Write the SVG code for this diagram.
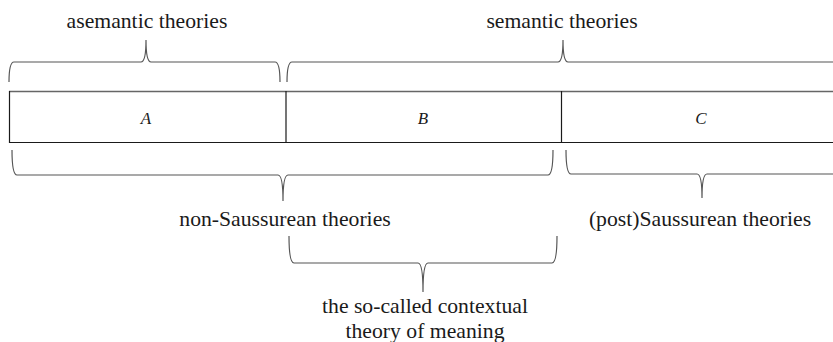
<svg xmlns="http://www.w3.org/2000/svg" width="833" height="342" viewBox="0 0 833 342">
<style>
text{font-family:"Liberation Serif",Tinos,"Times New Roman","DejaVu Serif",serif;fill:#1a1a1a;text-anchor:middle}
.lbl{font-size:21.7px}
.cell{font-size:17px;font-style:italic}
.brace{fill:none;stroke:#555;stroke-width:1.2}
.box{fill:none;stroke:#1a1a1a;stroke-width:1.2}
</style>
<rect width="833" height="342" fill="#fff"/>
<g id="bar">
<line x1="9" y1="91.5" x2="833" y2="91.5" stroke="#666" stroke-width="1.6"/>
<line x1="9" y1="142.5" x2="833" y2="142.5" class="box"/>
<line x1="9.5" y1="91" x2="9.5" y2="143" class="box"/>
</g>
<g id="A"><line x1="286" y1="91" x2="286" y2="143" class="box"/><text class="cell" x="146" y="124" font-family="Liberation Serif, serif">A</text></g>
<g id="B"><line x1="561.5" y1="91" x2="561.5" y2="143" class="box"/><text class="cell" x="423" y="124" font-family="Liberation Serif, serif">B</text></g>
<g id="C"><text class="cell" x="701" y="124" font-family="Liberation Serif, serif">C</text></g>
<g id="connectors">
<path class="brace" d="M9,82 Q9,62 14,62 H141 Q146,62 146,40 Q146,62 151,62 H275 Q280,62 280,82"/>
<path class="brace" d="M287,82 Q287,62 292,62 H558 Q563,62 563,40 Q563,62 568,62 H840"/>
<path class="brace" d="M12,150 Q12,175 17,175 H278 Q283,175 283,201 Q283,175 288,175 H548 Q553,175 553,150"/>
<path class="brace" d="M566,150 Q566,174 571,174 H697 Q702,174 702,198 Q702,174 707,174 H840"/>
<path class="brace" d="M289,236 Q289,263 294,263 H418 Q423,263 423,292 Q423,263 428,263 H552 Q557,263 557,236"/>
</g>
<g id="asemantic"><text class="lbl" x="147" y="28" font-family="Liberation Serif, serif">asemantic theories</text></g>
<g id="semantic"><text class="lbl" x="562" y="28" font-family="Liberation Serif, serif">semantic theories</text></g>
<g id="nonsaussurean"><text class="lbl" x="285" y="226" font-family="Liberation Serif, serif">non-Saussurean theories</text></g>
<g id="postsaussurean"><text class="lbl" x="700" y="226" font-family="Liberation Serif, serif">(post)Saussurean theories</text></g>
<g id="contextual"><text class="lbl" x="425" y="313" font-family="Liberation Serif, serif">the so-called contextual</text><text class="lbl" x="425" y="338" font-family="Liberation Serif, serif">theory of meaning</text></g>
</svg>
